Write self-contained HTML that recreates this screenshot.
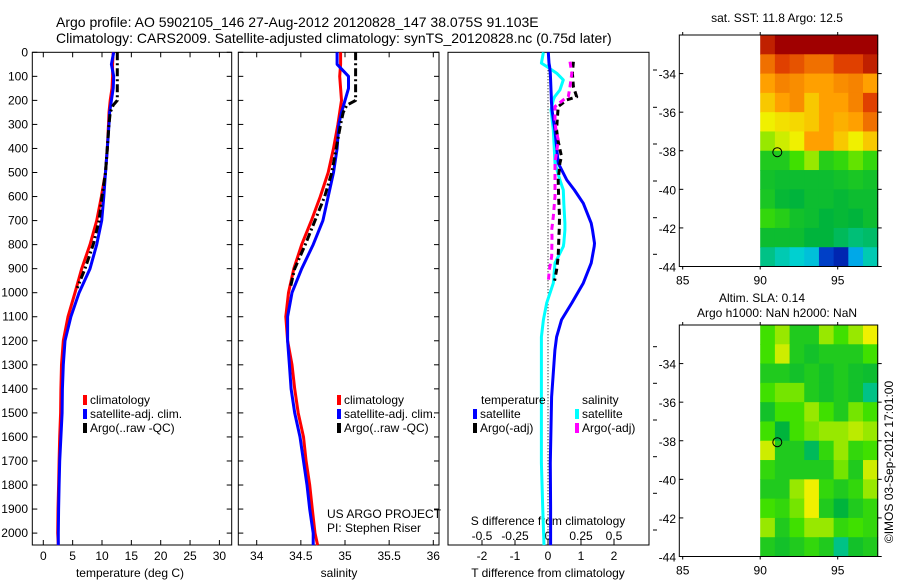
<!DOCTYPE html>
<html><head><meta charset="utf-8"><style>
body{margin:0;background:#fff;width:900px;height:580px;overflow:hidden}
svg{font-family:"Liberation Sans",sans-serif;}
text{fill:#000}
</style></head><body>
<svg id="fig" width="900" height="580" viewBox="0 0 900 580">
<text x="56" y="27" font-size="14">Argo profile: AO 5902105_146 27-Aug-2012 20120828_147 38.075S 91.103E</text>
<text x="56" y="43" font-size="14">Climatology: CARS2009. Satellite-adjusted climatology: synTS_20120828.nc (0.75d later)</text>
<g id="g1"></g>
<g id="g2"></g>
<g id="g3"></g>
<g id="g4"></g>
<g id="g5"></g>
<text x="777" y="22" font-size="12" text-anchor="middle">sat. SST: 11.8 Argo: 12.5</text>
<text x="762" y="302" font-size="12" text-anchor="middle">Altim. SLA: 0.14</text>
<text x="777" y="317" font-size="12" text-anchor="middle">Argo h1000: NaN h2000: NaN</text>
<text transform="translate(893,462) rotate(-90)" font-size="12" text-anchor="middle">©IMOS 03-Sep-2012 17:01:00</text>
<text x="327" y="518" font-size="12">US ARGO PROJECT</text>
<text x="327" y="532" font-size="12">PI: Stephen Riser</text>
</svg>
<script>
// ---- data ----
const depthClim=[0,50,100,150,200,250,300,400,500,600,700,800,900,1000,1100,1200,1300,1400,1500,1600,1700,1800,1900,2000,2050];
const tempClim=[11.9,11.8,11.8,11.7,11.4,11.2,11.1,10.9,10.6,9.9,9.1,7.95,6.55,5.4,4.2,3.4,3.1,3.0,2.95,2.8,2.7,2.6,2.5,2.45,2.55];
const tempSat=[12.0,11.6,12.0,11.9,11.6,11.3,11.2,10.9,10.6,10.3,9.95,9.1,7.95,6.1,4.7,3.7,3.4,3.25,3.2,3.0,2.8,2.7,2.6,2.55,2.55];
const depthArgo=[0,50,100,150,200,220,250,300,400,500,600,700,800,900,980];
const tempArgo=[12.6,12.6,12.6,12.6,12.6,11.9,11.4,11.2,10.9,10.6,10.0,9.5,8.5,7.1,5.8];
const salClim=[34.95,34.95,34.94,34.95,34.96,34.94,34.92,34.87,34.81,34.72,34.62,34.51,34.42,34.36,34.33,34.35,34.40,34.43,34.47,34.53,34.56,34.6,34.63,34.66,34.69];
const salSat=[34.91,34.91,35.04,35.04,35.0,34.96,34.93,34.91,34.87,34.81,34.75,34.64,34.51,34.40,34.35,34.35,34.37,34.39,34.43,34.49,34.53,34.57,34.6,34.64,34.64];
const salArgo=[35.12,35.12,35.12,35.12,35.12,35.02,34.98,34.95,34.90,34.85,34.77,34.66,34.55,34.43,34.38];
const depthDiff=[0,45,59,87,115,157,185,198,240,323,461,531,573,628,711,739,794,808,877,960,1043,1113,1184,1239,1434,1709,1891,2050];
const dTSat=[0.01,0.03,0.05,0.07,0.08,0.09,0.1,0.1,0.12,0.21,0.31,0.57,0.8,1.07,1.31,1.35,1.41,1.4,1.31,1.07,0.72,0.41,0.26,0.21,0.11,0.07,0.08,0.08];
const dSSat=[-0.035,-0.05,-0.01,0.066,0.116,0.09,0.05,0.04,0.023,0.04,0.053,0.09,0.116,0.12,0.128,0.128,0.12,0.116,0.053,0.04,-0.01,-0.035,-0.05,-0.05,-0.05,-0.05,-0.04,-0.03];
const depthArgoDiff=[39,87,143,185,198,226,282,323,365,434,461,531,600,683,739,766,849,905,950];
const dTArgo=[0.77,0.74,0.77,0.87,0.57,0.31,0.28,0.26,0.3,0.41,0.36,0.31,0.32,0.35,0.34,0.33,0.31,0.26,0.2];
const dSArgo=[0.167,0.18,0.167,0.154,0.116,0.053,0.053,0.06,0.078,0.06,0.053,0.053,0.053,0.04,0.028,0.03,0.028,0.01,0.003];
const depthTicks=[0,100,200,300,400,500,600,700,800,900,1000,1100,1200,1300,1400,1500,1600,1700,1800,1900,2000];
const tempTicks=[0,5,10,15,20,25,30];
const salTicks=[34,34.5,35,35.5,36];
const salTickLabels=["34","34.5","35","35.5","36"];
const dTTicks=[-2,-1,0,1,2];
const dSTicks=[-0.5,-0.25,0,0.25,0.5];
const dSTickLabels=["-0.5","-0.25","0","0.25","0.5"];
const latTicks=[-34,-36,-38,-40,-42,-44];
const lonTicks=[85,90,95];
const argoLon=91.103, argoLat=-38.075;
// map grids: rows from -32 to -44 (1 deg), cols 90 to 97.6 (8 cols), colour index 0..8
const sstGrid=[
[7.5,8,8,8,8,8,8,8],[6.5,7,6.8,6.5,6.5,7,7,7.5],[6,6.3,6.2,6,6,6.2,6.3,6],[5.5,6,6.2,5.5,6,6,6.3,7],
[5,5.2,5.3,5.5,6,5.8,6,6.5],[4.5,4.8,5,6,6,5.5,5,5.5],[3.5,3.5,4,4.5,3.6,3.8,4.2,3.8],[3.3,3.2,3.2,3.2,3.2,3.3,3.4,3.3],
[3.4,3.1,3,3.2,3.2,3.1,3.2,3.2],[3.8,3.6,3.3,3.2,3,3.1,3,3.2],[3.2,3.2,3.2,3.0,3,2.8,2.6,2.7],[2.5,2.2,2.0,1.8,0.5,0.3,1.5,2.2]];
const slaGrid=[
[4,4.5,3.5,3.5,4.5,4,4.5,5],[4,4.8,3.5,3.3,3.5,3.5,3.5,4],[3.5,3.5,3.3,3.5,3.3,3.5,3.3,3.2],[4,4.3,4.3,3.5,3.3,3.5,3.3,2.5],
[3.3,4,4,4.5,4,3.5,4.3,4],[4,3,4,4.3,4.5,4.5,4.7,4.5],[4.8,3.5,3.5,2.8,3.8,4.5,3.8,4],[3.8,3.5,3.5,3.5,3.5,4.3,3.5,4.8],
[3.5,3.5,4.5,5,3.8,3.5,3.8,4.5],[4,3.8,4.3,5,3.5,3,3.5,3.8],[4.5,3.5,4,4.5,4.5,3.8,4,3.8],[3.5,3.3,3.5,3.8,3.5,2.5,3.3,3.5]];

const NS="http://www.w3.org/2000/svg";
function mk(parent,tag,attrs){const e=document.createElementNS(NS,tag);for(const k in attrs)e.setAttribute(k,attrs[k]);parent.appendChild(e);return e;}
const Y0=52.3, YS=0.2404, YB=545;
const yD=d=>Y0+d*YS;

function frame(g,x0,x1,name){
  const r=mk(g,'rect',{x:x0,y:Y0,width:x1-x0,height:YB-Y0,fill:'none',stroke:'#000','stroke-width':1});
  
  
  depthTicks.forEach(d=>{const y=yD(d);
    const t1=mk(g,'line',{x1:x0,x2:x0+5,y1:y,y2:y,stroke:'#000'});
    
    
    const t2=mk(g,'line',{x1:x1-5,x2:x1,y1:y,y2:y,stroke:'#000'});
    
    
  });
}
function xticks(g,ticks,labels,fx,y,name){
  ticks.forEach((v,i)=>{const x=fx(v);
    const l=mk(g,'line',{x1:x,x2:x,y1:YB,y2:YB-5,stroke:'#000'});
    
    
    const l2=mk(g,'line',{x1:x,x2:x,y1:Y0,y2:Y0+5,stroke:'#000'});
    
    
    const t=mk(g,'text',{x:x,y:y,'font-size':12,'text-anchor':'middle'});t.textContent=labels[i];
    
    
  });
}
function line(g,xs,ds,fx,color,w,dash,name){
  const pts=xs.map((v,i)=>fx(v).toFixed(1)+','+yD(ds[i]).toFixed(1)).join(' ');
  const p=mk(g,'polyline',{points:pts,fill:'none',stroke:color,'stroke-width':w,'stroke-linejoin':'round'});
  if(dash)p.setAttribute('stroke-dasharray',dash);
  
  
}
function legendEntry(g,x,y,color,label,name){
  const r=mk(g,'rect',{x:x,y:y-9,width:4,height:10,fill:color});
  
  
  const t=mk(g,'text',{x:x+7,y:y,'font-size':12});t.textContent=label;
  
  
}
function txt(g,x,y,s,name,anchor){const t=mk(g,'text',{x:x,y:y,'font-size':12,'text-anchor':anchor||'start'});t.textContent=s;
  
  return t;}

// Panel 1
const g1=document.getElementById('g1');
const fT=v=>43.3+5.87*v;
frame(g1,32.3,231.7,'temperature-axes');
depthTicks.forEach(d=>{const t=txt(g1,28,yD(d)+4,String(d),'depth-tick-label','end');});
xticks(g1,tempTicks,tempTicks.map(String),fT,560,'temperature');
txt(g1,130,577,'temperature (deg C)','x-axis-title-temperature','middle');
line(g1,tempClim,depthClim,fT,'#ff0000',3,null,'temperature-climatology-line');
line(g1,tempSat,depthClim,fT,'#0000ff',3,null,'temperature-satellite-line');
line(g1,tempArgo,depthArgo,fT,'#000',3,'8,3,2,3','temperature-argo-line');
legendEntry(g1,83,404,'#ff0000','climatology','legend-climatology');
legendEntry(g1,83,418,'#0000ff','satellite-adj. clim.','legend-satellite-adj');
legendEntry(g1,83,432,'#000','Argo(..raw -QC)','legend-argo');

// Panel 2
const g2=document.getElementById('g2');
const fS=v=>256.7+88.3*(v-34);
frame(g2,238.3,439,'salinity-axes');
xticks(g2,salTicks,salTickLabels,fS,560,'salinity');
txt(g2,339,577,'salinity','x-axis-title-salinity','middle');
line(g2,salClim,depthClim,fS,'#ff0000',3,null,'salinity-climatology-line');
line(g2,salSat,depthClim,fS,'#0000ff',3,null,'salinity-satellite-line');
line(g2,salArgo,depthArgo,fS,'#000',3,'8,3,2,3','salinity-argo-line');
legendEntry(g2,337,404,'#ff0000','climatology','legend-climatology-2');
legendEntry(g2,337,418,'#0000ff','satellite-adj. clim.','legend-satellite-adj-2');
legendEntry(g2,337,432,'#000','Argo(..raw -QC)','legend-argo-2');

// Panel 3
const g3=document.getElementById('g3');
const fdT=v=>548+33*v, fdS=v=>548+132*v;
const r3=mk(g3,'rect',{x:448,y:Y0,width:201,height:YB-Y0,fill:'none',stroke:'#000'});


[70,107.3,144,181,217.7,254.3,346.7,383.3,420,456.7,493.3,530].forEach(y=>{const l=mk(g3,'line',{x1:653,x2:657,y1:y,y2:y,stroke:'#000'});
  
  });
dTTicks.forEach(v=>{const x=fdT(v);const l=mk(g3,'line',{x1:x,x2:x,y1:YB,y2:YB-5,stroke:'#000'});
  
  
  txt(g3,x,560,String(v),'dt-tick-label','middle');});
dSTicks.forEach((v,i)=>{txt(g3,fdS(v),540,dSTickLabels[i],'ds-tick-label','middle');});
txt(g3,548,525,'S difference from climatology','s-axis-title','middle');
txt(g3,548,577,'T difference from climatology','t-axis-title','middle');
const z=mk(g3,'line',{x1:548,x2:548,y1:Y0,y2:YB,stroke:'#000','stroke-dasharray':'1,2'});


line(g3,dSSat,depthDiff,fdS,'#00ffff',3,null,'salinity-satellite-diff-line');
line(g3,dTSat,depthDiff,fdT,'#0000ff',3,null,'temperature-satellite-diff-line');
line(g3,dTArgo,depthArgoDiff,fdT,'#000',3,'6,4','temperature-argo-diff-line');
line(g3,dSArgo,depthArgoDiff,fdS,'#ff00ff',3,'6,4','salinity-argo-diff-line');
txt(g3,481,404,'temperature','legend-temperature-heading');
txt(g3,582,404,'salinity','legend-salinity-heading');
legendEntry(g3,473,418,'#0000ff','satellite','legend-temp-satellite');
legendEntry(g3,473,432,'#000','Argo(-adj)','legend-temp-argo');
legendEntry(g3,575,418,'#00ffff','satellite','legend-sal-satellite');
legendEntry(g3,575,432,'#ff00ff','Argo(-adj)','legend-sal-argo');

// Maps
const stops=[[0,0,143],[0,128,255],[0,208,208],[0,180,60],[64,224,0],[240,240,0],[255,160,0],[224,64,0],[160,0,0]];
function cmap(v){v=Math.max(0,Math.min(8,v));const i=Math.min(7,Math.floor(v)),f=v-i;const a=stops[i],b=stops[i+1];
  return 'rgb('+a.map((c,k)=>Math.round(c+(b[k]-c)*f)).join(',')+')';}
function map(g,top,grid,name){
  const bottom=top+231.5, fx=lon=>682.7+(lon-85)*15.5, fy=lat=>top+(-32-lat)*(231.5/12);
  const cw=(97.58-90)/8;
  grid.forEach((row,r)=>row.forEach((v,c)=>{
    const x=fx(90+c*cw), y=fy(-32-r);
    const e=mk(g,'rect',{x:x.toFixed(2),y:y.toFixed(2),width:(cw*15.5+0.5).toFixed(2),height:(231.5/12+0.5).toFixed(2),fill:cmap(v)});
    
    
  }));
  const b=mk(g,'rect',{x:679.3,y:top,width:198.4,height:231.5,fill:'none',stroke:'#000'});
  
  
  latTicks.forEach(l=>{const y=fy(l);
    const a=mk(g,'line',{x1:679.3,x2:683.3,y1:y,y2:y,stroke:'#000'});
    
    
    const a2=mk(g,'line',{x1:877.7,x2:881.7,y1:y,y2:y,stroke:'#000'});
    
    
    txt(g,676,y+5,String(l),'lat-tick-label','end');});
  lonTicks.forEach(l=>{const x=fx(l);
    const a=mk(g,'line',{x1:x,x2:x,y1:top,y2:top-3,stroke:'#000'});
    
    
    const a2=mk(g,'line',{x1:x,x2:x,y1:bottom,y2:bottom+3,stroke:'#000'});
    
    
    txt(g,x,bottom+18,String(l),'lon-tick-label','middle');});
  const c=mk(g,'circle',{cx:fx(argoLon),cy:fy(argoLat),r:4.5,fill:'none',stroke:'#000'});
  
  
}
map(document.getElementById('g4'),35,sstGrid,'sst-map');
map(document.getElementById('g5'),325,slaGrid,'sla-map');
</script>
</body></html>
